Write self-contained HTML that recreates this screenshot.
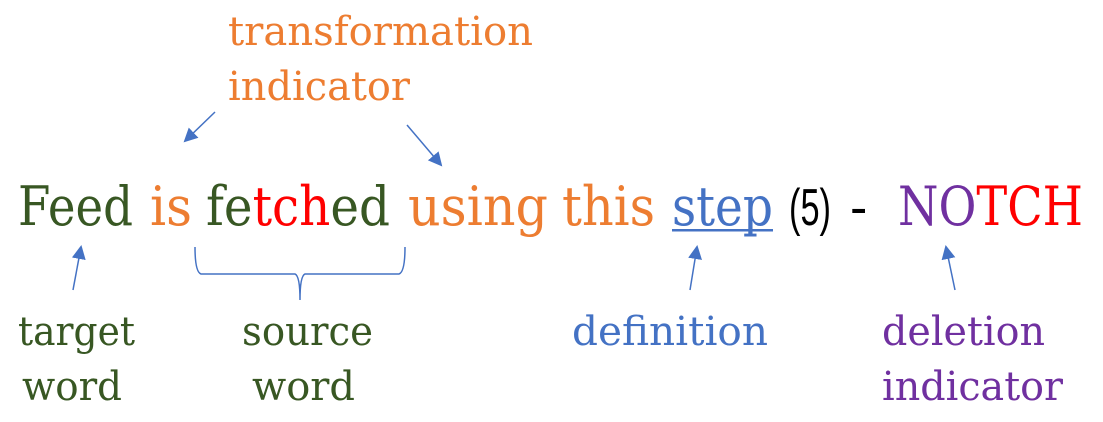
<!DOCTYPE html>
<html><head><meta charset="utf-8"><style>
html,body{margin:0;padding:0;background:#fff;}
svg{display:block}
text{font-family:"DejaVu Serif","Liberation Serif",serif;}
.m{font-size:54px}
.l{font-size:40px}
</style></head><body>
<svg width="1103" height="422" viewBox="0 0 1103 422" xmlns="http://www.w3.org/2000/svg">
<defs>
<marker id="a" markerWidth="14" markerHeight="14" refX="12" refY="7" orient="auto" markerUnits="userSpaceOnUse" viewBox="0 0 14 14">
<path d="M0,0 L14,7 L0,14 z" fill="#4472C4"/></marker>
</defs>
<text class="l" x="228" y="45" fill="#ED7D31" textLength="305" lengthAdjust="spacingAndGlyphs">transformation</text>
<text class="l" x="228" y="100" fill="#ED7D31" textLength="182" lengthAdjust="spacingAndGlyphs">indicator</text>
<text class="m" x="18" y="225" fill="#385723" textLength="115" lengthAdjust="spacingAndGlyphs">Feed</text>
<text class="m" x="150" y="225" fill="#ED7D31" textLength="42" lengthAdjust="spacingAndGlyphs">is</text>
<text class="m" x="206" y="225" fill="#385723" textLength="184" lengthAdjust="spacingAndGlyphs">fe<tspan fill="#FF0000">tch</tspan>ed</text>
<text class="m" x="408" y="225" fill="#ED7D31" textLength="140" lengthAdjust="spacingAndGlyphs">using</text>
<text class="m" x="562" y="225" fill="#ED7D31" textLength="93" lengthAdjust="spacingAndGlyphs">this</text>
<text class="m" x="672" y="225" fill="#4472C4" textLength="101" lengthAdjust="spacingAndGlyphs">step</text>
<rect x="672" y="229" width="101" height="2.5" fill="#4472C4"/>
<text x="789" y="225" font-size="52" fill="#000" textLength="42" lengthAdjust="spacingAndGlyphs" style="font-family:'Liberation Sans',sans-serif">(5)</text>
<text x="850" y="225" font-size="52" fill="#000" style="font-family:'Liberation Sans',sans-serif">-</text>
<text class="m" x="898" y="225" fill="#7030A0" textLength="185" lengthAdjust="spacingAndGlyphs">NO<tspan fill="#FF0000">TCH</tspan></text>
<g stroke="#4472C4" stroke-width="1.5" fill="none">
<line x1="215" y1="112" x2="185" y2="141" marker-end="url(#a)"/>
<line x1="407" y1="125" x2="441" y2="165" marker-end="url(#a)"/>
<line x1="73" y1="290" x2="81" y2="247" marker-end="url(#a)"/>
<line x1="690" y1="290" x2="697" y2="247" marker-end="url(#a)"/>
<line x1="955" y1="290" x2="946" y2="247" marker-end="url(#a)"/>
<path d="M195,247 Q195,272 201,274 L295,274 Q300,276 300,300 M300,300 Q300,276 305,274 L399,274 Q405,272 405,247"/>
</g>
<text class="l" x="18" y="345" fill="#385723" textLength="117" lengthAdjust="spacingAndGlyphs">target</text>
<text class="l" x="22" y="400" fill="#385723" textLength="100" lengthAdjust="spacingAndGlyphs">word</text>
<text class="l" x="242" y="345" fill="#385723" textLength="131" lengthAdjust="spacingAndGlyphs">source</text>
<text class="l" x="252" y="400" fill="#385723" textLength="103" lengthAdjust="spacingAndGlyphs">word</text>
<text class="l" x="572" y="345" fill="#4472C4" textLength="196" lengthAdjust="spacingAndGlyphs">definition</text>
<text class="l" x="882" y="345" fill="#7030A0" textLength="163" lengthAdjust="spacingAndGlyphs">deletion</text>
<text class="l" x="882" y="400" fill="#7030A0" textLength="181" lengthAdjust="spacingAndGlyphs">indicator</text>
</svg>
</body></html>
